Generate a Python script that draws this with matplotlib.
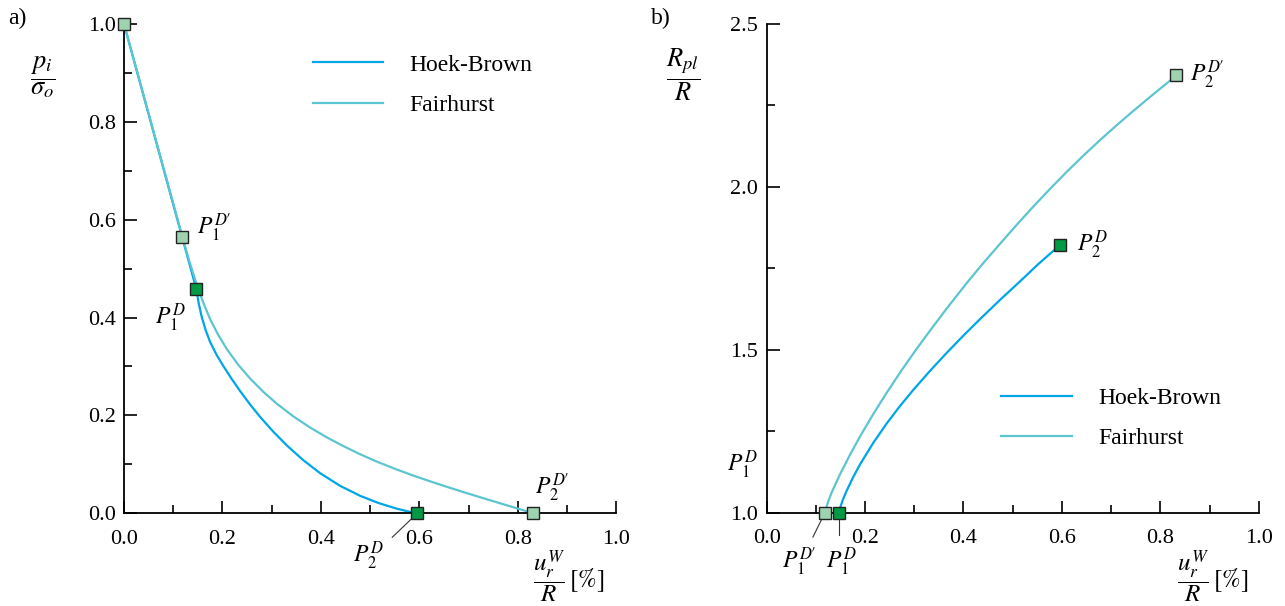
import numpy as np
import matplotlib
matplotlib.use("Agg")
from matplotlib import pyplot as plt
from matplotlib.ticker import MultipleLocator, FormatStrFormatter

plt.rcParams['font.family'] = ['Liberation Serif', 'DejaVu Serif']
plt.rcParams['mathtext.fontset'] = 'stix'

# a) ground reaction curve, p_i / sigma_o against u_r^W / R [%]
hb_u_a = [0.0, 0.147, 0.152, 0.158, 0.166, 0.175, 0.188, 0.202, 0.219, 0.236, 0.256,
          0.276, 0.303, 0.331, 0.364, 0.398, 0.439, 0.480, 0.517, 0.554, 0.576, 0.596]
hb_p_a = [1.0, 0.458, 0.428, 0.401, 0.374, 0.350, 0.324, 0.3006, 0.2743, 0.2496, 0.2226,
          0.1976, 0.1671, 0.1385, 0.1088, 0.0823, 0.0561, 0.0356, 0.021, 0.0095, 0.004, 0.0]
fh_u_a = [0.0, 0.1185, 0.132, 0.145, 0.160, 0.175, 0.192, 0.209, 0.232, 0.256, 0.283,
          0.310, 0.344, 0.378, 0.412, 0.446, 0.480, 0.514, 0.551, 0.588, 0.622, 0.656,
          0.690, 0.724, 0.758, 0.791, 0.832]
fh_p_a = [1.0, 0.5655, 0.5176, 0.476, 0.4333, 0.3966, 0.3635, 0.3354, 0.3037, 0.2756,
          0.2483, 0.2243, 0.1981, 0.1753, 0.1552, 0.1372, 0.1205, 0.1055, 0.0907, 0.077,
          0.0653, 0.0541, 0.0432, 0.0327, 0.0223, 0.0124, 0.0]

# b) plastic radius R_pl / R against u_r^W / R [%]
hb_u_b = [0.147, 0.150, 0.155, 0.1626, 0.176, 0.190, 0.217, 0.244, 0.271, 0.298, 0.332,
          0.366, 0.400, 0.4335, 0.474, 0.515, 0.552, 0.589, 0.597]
hb_r_b = [1.0, 1.018, 1.040, 1.0674, 1.1096, 1.1488, 1.215, 1.2739, 1.3274, 1.3768, 1.4353,
          1.4907, 1.5437, 1.594, 1.6527, 1.7101, 1.763, 1.812, 1.823]
fh_u_b = [0.1185, 0.121, 0.126, 0.132, 0.149, 0.170, 0.190, 0.217, 0.244, 0.2745, 0.305,
          0.3355, 0.366, 0.4065, 0.440, 0.474, 0.508, 0.542, 0.576, 0.610, 0.6435, 0.677,
          0.711, 0.745, 0.784, 0.823, 0.8325]
fh_r_b = [1.0, 1.015, 1.038, 1.0614, 1.1175, 1.1795, 1.2345, 1.3034, 1.3682, 1.4377, 1.5033,
          1.5658, 1.6268, 1.7046, 1.7656, 1.8248, 1.8833, 1.9397, 1.9941, 2.0465, 2.0957,
          2.1429, 2.1888, 2.233, 2.2821, 2.3301, 2.342]

hb_color = '#00a6e8'
fh_color = '#5cc5d0'
dark_green = '#009a45'
light_green = '#9fd3b0'

fig = plt.figure(figsize=(12.85, 6.06), dpi=100)
ax1 = fig.add_axes([0.0965, 0.153, 0.383, 0.8075])
ax2 = fig.add_axes([0.5966, 0.154, 0.383, 0.8065])


def style_axes(ax, ymin, ymax, ymaj, ymin_step):
    ax.set_xlim(0, 1)
    ax.set_ylim(ymin, ymax)
    ax.spines['top'].set_visible(False)
    ax.spines['right'].set_visible(False)
    for s in ('left', 'bottom'):
        ax.spines[s].set_linewidth(1.3)
    ax.xaxis.set_major_locator(MultipleLocator(0.2))
    ax.xaxis.set_minor_locator(MultipleLocator(0.1))
    ax.yaxis.set_major_locator(MultipleLocator(ymaj))
    ax.yaxis.set_minor_locator(MultipleLocator(ymin_step))
    ax.tick_params(which='both', direction='in', width=1.2, labelsize=16)
    ax.tick_params(which='major', length=9)
    ax.tick_params(which='minor', length=6)
    ax.tick_params(axis='x', pad=12)
    ax.tick_params(axis='y', pad=6)
    ax.xaxis.set_major_formatter(FormatStrFormatter('%.1f'))
    ax.yaxis.set_major_formatter(FormatStrFormatter('%.1f'))


def square(ax, x, y, color):
    ax.plot([x], [y], 's', ms=8, mfc=color, mec='#222222', mew=1.0,
            clip_on=False, zorder=5)


style_axes(ax1, 0, 1, 0.2, 0.1)
style_axes(ax2, 1, 2.5, 0.5, 0.25)

p1d = r"$P_1^{D}$"
p1dp = r"$P_1^{D\prime}$"
p2d = r"$P_2^{D}$"
p2dp = r"$P_2^{D\prime}$"

# panel a
ax1.plot(hb_u_a, hb_p_a, color=hb_color, lw=1.6, label='Hoek-Brown', clip_on=False)
ax1.plot(fh_u_a, fh_p_a, color=fh_color, lw=1.6, label='Fairhurst', clip_on=False)
square(ax1, fh_u_a[0], fh_p_a[0], light_green)
square(ax1, fh_u_a[1], fh_p_a[1], light_green)
square(ax1, hb_u_a[1], hb_p_a[1], dark_green)
square(ax1, hb_u_a[-1], hb_p_a[-1], dark_green)
square(ax1, fh_u_a[-1], fh_p_a[-1], light_green)

ax1.text(0.148, 0.583, p1dp, fontsize=17, ha='left', va='center')
ax1.text(0.063, 0.400, p1d, fontsize=17, ha='left', va='center')
ax1.text(0.835, 0.052, p2dp, fontsize=17, ha='left', va='center')
ax1.text(0.465, -0.088, p2d, fontsize=17, ha='left', va='center', clip_on=False)
ax1.plot([hb_u_a[-1], 0.545], [0, -0.049], color='#333333', lw=0.8, clip_on=False)

ax1.legend(loc='upper left', bbox_to_anchor=(0.34, 0.982), frameon=False,
           fontsize=17, handlelength=3.0, handletextpad=1.1, labelspacing=0.8)

# panel b
ax2.plot(hb_u_b, hb_r_b, color=hb_color, lw=1.6, label='Hoek-Brown', clip_on=False)
ax2.plot(fh_u_b, fh_r_b, color=fh_color, lw=1.6, label='Fairhurst', clip_on=False)
square(ax2, fh_u_b[0], fh_r_b[0], light_green)
square(ax2, hb_u_b[0], hb_r_b[0], dark_green)
square(ax2, hb_u_b[-1], hb_r_b[-1], dark_green)
square(ax2, fh_u_b[-1], fh_r_b[-1], light_green)

ax2.text(0.860, 2.343, p2dp, fontsize=17, ha='left', va='center')
ax2.text(0.631, 1.821, p2d, fontsize=17, ha='left', va='center')
ax2.text(-0.081, 1.146, p1d, fontsize=17, ha='left', va='center', clip_on=False)
ax2.text(0.031, 0.849, p1dp, fontsize=17, ha='left', va='center', clip_on=False)
ax2.text(0.121, 0.849, p1d, fontsize=17, ha='left', va='center', clip_on=False)
ax2.plot([fh_u_b[0], 0.094], [1.0, 0.925], color='#333333', lw=0.8, clip_on=False)
ax2.plot([hb_u_b[0], hb_u_b[0]], [1.0, 0.93], color='#333333', lw=0.8, clip_on=False)

ax2.legend(loc='upper left', bbox_to_anchor=(0.434, 0.30), frameon=False,
           fontsize=17, handlelength=3.0, handletextpad=1.1, labelspacing=0.8)

# axis titles as fractions
fig.text(43 / 1285, 1 - 77 / 606, r"$\dfrac{p_i}{\sigma_o}$", fontsize=19,
         ha='center', va='center')
fig.text(683 / 1285, 1 - 75 / 606, r"$\dfrac{R_{pl}}{R}$", fontsize=19,
         ha='center', va='center')
fig.text(533 / 1285, 1 - 577 / 606, r"$\dfrac{u_r^W}{R}\,\mathrm{[\%]}$", fontsize=18,
         ha='left', va='center')
fig.text(1177 / 1285, 1 - 577 / 606, r"$\dfrac{u_r^W}{R}\,\mathrm{[\%]}$", fontsize=18,
         ha='left', va='center')

fig.text(8 / 1285, 1 - 18 / 606, 'a)', fontsize=17, ha='left', va='center')
fig.text(651 / 1285, 1 - 18 / 606, 'b)', fontsize=17, ha='left', va='center')

fig.savefig('out.png', dpi=100)
